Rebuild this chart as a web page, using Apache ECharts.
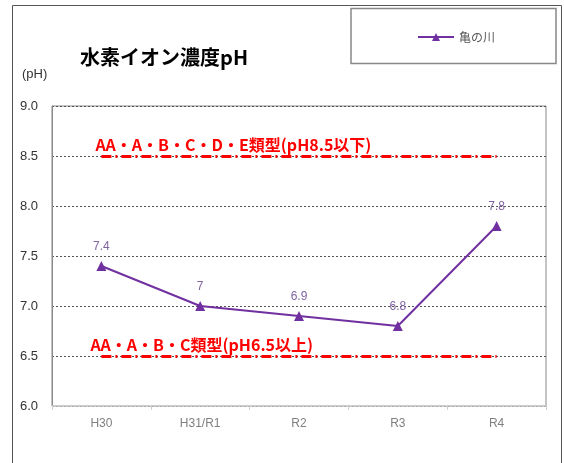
<!DOCTYPE html>
<html><head><meta charset="utf-8">
<script src="https://cdn.jsdelivr.net/npm/echarts@6/dist/echarts.min.js"></script>
<style>html,body{margin:0;padding:0;background:#fff}#c{width:564px;height:463px}</style>
</head><body><div id="c"></div>
<script>
const categories = ['H30', 'H31/R1', 'R2', 'R3', 'R4'];
const phValues = [7.4, 7.0, 6.9, 6.8, 7.8];
const upperLimit = 8.5;
const lowerLimit = 6.5;
const upperLabel = 'AA・A・B・C・D・E類型(pH8.5以下)';
const lowerLabel = 'AA・A・B・C類型(pH6.5以上)';
const seriesName = '亀の川';
const titleText = '水素イオン濃度pH';
const unitText = '(pH)';

const FONT = '"Noto Sans CJK JP", "Noto Sans", sans-serif';
const NUMFONT = '"Liberation Sans", Arial, sans-serif';
const chart = echarts.init(document.getElementById('c'));

function limitSeries(v, label, dx) {
  return {
    type: 'line', silent: true, symbol: 'none', data: categories.map(() => null),
    markLine: {
      silent: true, symbol: 'none', animation: false,
      lineStyle: { color: '#FF0000', width: 3, type: [10, 4, 2, 4] },
      label: {
        show: true, position: 'insideStartTop', formatter: label,
        color: '#FF0000', fontWeight: 'bold', fontSize: 16, fontFamily: FONT,
        distance: [dx, 3]
      },
      data: [[{ coord: [categories[0], v] }, { coord: [categories[categories.length - 1], v] }]]
    }
  };
}

chart.setOption({
  animation: false,
  textStyle: { fontFamily: FONT },
  graphic: [
    { type: 'rect', shape: { x: 12.5, y: 5.5, width: 549, height: 470 }, style: { fill: 'none', stroke: '#555', lineWidth: 1 }, z: -1 },
    { type: 'rect', shape: { x: 351, y: 8.5, width: 205, height: 55 }, style: { fill: '#fff', stroke: '#888', lineWidth: 1.5 }, z: 0 },
    { type: 'text', left: 80, top: 47, style: { text: titleText, fill: '#000', font: 'bold 20px ' + FONT } },
    { type: 'text', left: 22, top: 68, style: { text: unitText, fill: '#333', font: '13px ' + NUMFONT } }
  ],
  legend: {
    data: [seriesName],
    left: 412, top: 26, itemWidth: 36, itemHeight: 10, itemGap: 4,
    textStyle: { color: '#595959', fontSize: 12, fontFamily: FONT },
    z: 5
  },
  grid: { left: 52, right: 18, top: 106, bottom: 57, show: true, borderColor: '#888', borderWidth: 1 },
  xAxis: {
    type: 'category', data: categories, boundaryGap: true,
    axisLine: { lineStyle: { color: '#d0d0d0', width: 1.5 } },
    axisTick: { show: true, length: 4, lineStyle: { color: '#d0d0d0' } },
    axisLabel: { color: '#7f7f7f', fontSize: 12, margin: 12, fontFamily: NUMFONT }
  },
  yAxis: {
    type: 'value', min: 6.0, max: 9.0, interval: 0.5,
    axisLine: { show: true, lineStyle: { color: '#888' } },
    axisTick: { show: false },
    axisLabel: { color: '#333', fontSize: 13, margin: 14, formatter: v => v.toFixed(1), fontFamily: NUMFONT },
    splitLine: { show: true, lineStyle: { color: '#555', type: [2, 2], width: 1 } }
  },
  series: [
    limitSeries(upperLimit, upperLabel, -6),
    limitSeries(lowerLimit, lowerLabel, -11),
    {
      name: seriesName, type: 'line', data: phValues,
      symbol: 'triangle', symbolSize: 10,
      lineStyle: { color: '#7030A0', width: 2 },
      itemStyle: { color: '#7030A0' },
      label: { show: true, position: 'top', distance: 8, color: '#8064A2', fontSize: 12, fontFamily: NUMFONT, formatter: p => String(p.value) },
      z: 10
    }
  ]
});
</script></body></html>
